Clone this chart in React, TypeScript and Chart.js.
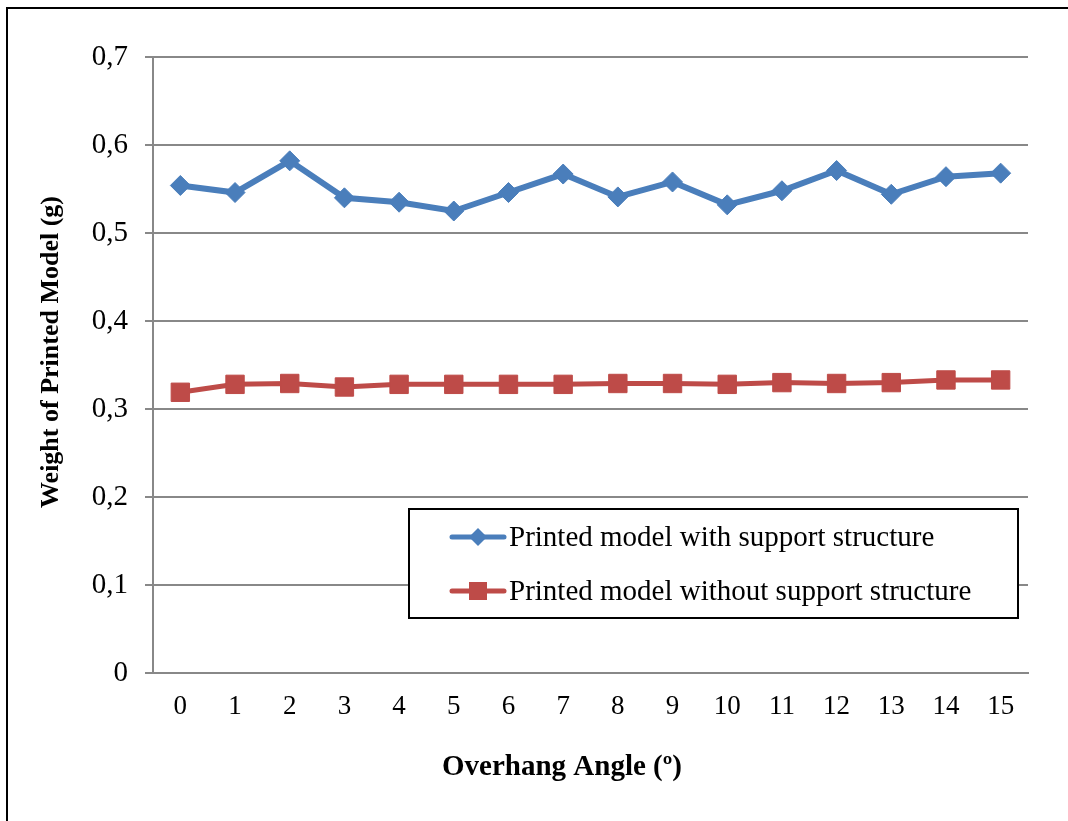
import React, { useEffect, useRef } from "react";
import { Chart, registerables } from "chart.js";

Chart.register(...registerables);

const categories = ["0", "1", "2", "3", "4", "5", "6", "7", "8", "9", "10", "11", "12", "13", "14", "15"];
const withSupport = [0.554, 0.546, 0.582, 0.540, 0.535, 0.525, 0.546, 0.567, 0.541, 0.558, 0.532, 0.548, 0.571, 0.544, 0.564, 0.568];
const withoutSupport = [0.319, 0.328, 0.329, 0.325, 0.328, 0.328, 0.328, 0.328, 0.329, 0.329, 0.328, 0.330, 0.329, 0.330, 0.333, 0.333];
const yTickLabels = ["0", "0,1", "0,2", "0,3", "0,4", "0,5", "0,6", "0,7"];
const seriesNames = ["Printed model with support structure", "Printed model without support structure"];
const xTitle = "Overhang Angle (º)";
const yTitle = "Weight of Printed Model (g)";

const BLUE = "#4A7EBB";
const RED = "#BE4B48";
const GRID = "#888888";
const FONT = "'Liberation Serif', 'Times New Roman', serif";

const overlayPlugin = {
  id: "overlay",
  afterDraw(chart: any) {
    const ctx = chart.ctx;
    ctx.save();
    // axis titles
    ctx.fillStyle = "#000";
    ctx.font = `bold 29px ${FONT}`;
    ctx.textAlign = "center";
    ctx.textBaseline = "middle";
    ctx.fillText(xTitle, 562, 768);
    ctx.save();
    ctx.translate(51, 352);
    ctx.rotate(-Math.PI / 2);
    ctx.font = `bold 26px ${FONT}`;
    ctx.fillText(yTitle, 0, 0);
    ctx.restore();

    // legend box
    const bx = 409, by = 509, bw = 609, bh = 109;
    ctx.fillStyle = "#fff";
    ctx.fillRect(bx, by, bw, bh);
    ctx.strokeStyle = "#000";
    ctx.lineWidth = 2;
    ctx.strokeRect(bx, by, bw, bh);
    const rows = [537, 591];
    chart.data.datasets.forEach((ds: any, i: number) => {
      const y = rows[i];
      ctx.strokeStyle = ds.borderColor;
      ctx.lineWidth = 5;
      ctx.lineCap = "round";
      ctx.beginPath();
      ctx.moveTo(452, y);
      ctx.lineTo(504, y);
      ctx.stroke();
      ctx.fillStyle = ds.borderColor;
      ctx.beginPath();
      if (ds.pointStyle === "rectRot") {
        ctx.moveTo(478 - 9, y);
        ctx.lineTo(478, y - 9);
        ctx.lineTo(478 + 9, y);
        ctx.lineTo(478, y + 9);
        ctx.closePath();
      } else {
        ctx.rect(478 - 9, y - 9, 18, 18);
      }
      ctx.fill();
      ctx.fillStyle = "#000";
      ctx.font = `29px ${FONT}`;
      ctx.textAlign = "left";
      ctx.textBaseline = "middle";
      ctx.fillText(ds.label, 509, y + 1);
    });
    ctx.restore();
  },
};

export default function App() {
  const ref = useRef<HTMLCanvasElement | null>(null);

  useEffect(() => {
    if (!ref.current) return;
    const chart = new Chart(ref.current, {
      type: "line",
      data: {
        labels: categories,
        datasets: [
          {
            label: seriesNames[0],
            data: withSupport,
            borderColor: BLUE,
            backgroundColor: BLUE,
            borderWidth: 6,
            pointStyle: "rectRot",
            pointRadius: 10,
            pointBorderWidth: 1,
            pointBackgroundColor: BLUE,
            pointBorderColor: BLUE,
            tension: 0,
          },
          {
            label: seriesNames[1],
            data: withoutSupport,
            borderColor: RED,
            backgroundColor: RED,
            borderWidth: 5,
            pointStyle: "rect",
            pointRadius: 13,
            pointBorderWidth: 1,
            pointBackgroundColor: RED,
            pointBorderColor: RED,
            tension: 0,
          },
        ],
      },
      options: {
        responsive: false,
        animation: false,
        devicePixelRatio: 1,
        layout: { padding: { left: 0, right: 40, top: 57, bottom: 0 } },
        plugins: {
          legend: { display: false },
          tooltip: { enabled: false },
        },
        scales: {
          x: {
            offset: true,
            grid: { display: false, drawTicks: false },
            border: { display: true, color: GRID, width: 2 },
            ticks: {
              color: "#000",
              font: { family: FONT, size: 27 },
              padding: 18,
              maxRotation: 0,
              autoSkip: false,
            },
            afterFit: (s: any) => {
              s.height = 148;
            },
          },
          y: {
            min: 0,
            max: 0.7,
            grid: { color: GRID, lineWidth: 2, tickLength: 8, tickColor: GRID },
            border: { display: true, color: GRID, width: 2 },
            ticks: {
              stepSize: 0.1,
              color: "#000",
              font: { family: FONT, size: 29 },
              padding: 17,
              callback: (_v: any, i: number) => yTickLabels[i],
            },
            afterFit: (s: any) => {
              s.width = 153;
            },
          },
        },
      },
      plugins: [overlayPlugin],
    });
    return () => chart.destroy();
  }, []);

  return (
    <div style={{ position: "fixed", left: 0, top: 0, width: 1068, height: 821, overflow: "hidden", background: "#fff" }}>
      <div
        style={{
          position: "absolute",
          left: 6,
          top: 7,
          width: 1200,
          height: 1000,
          border: "2px solid #000",
          boxSizing: "border-box",
        }}
      />
      <canvas ref={ref} width={1068} height={821} style={{ position: "absolute", left: 0, top: 0 }} />
    </div>
  );
}
